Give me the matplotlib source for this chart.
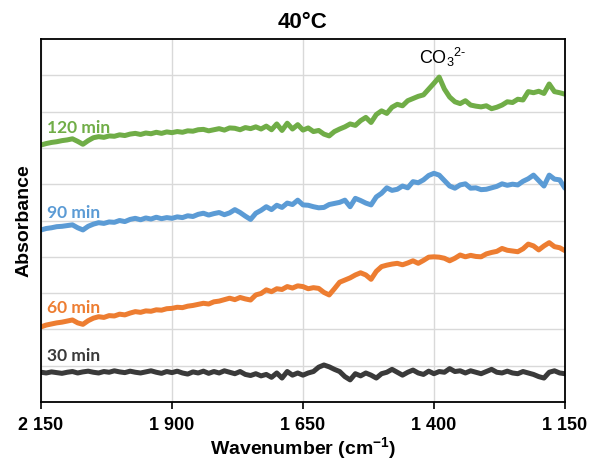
import numpy as np
import matplotlib
matplotlib.use("Agg")
import matplotlib.pyplot as plt
from matplotlib.ticker import FuncFormatter

# wavenumber grid, every 10 cm-1 from 2150 down to 1150
wavenumber = np.arange(2150, 1149, -10)

abs_30 = [0.82, 0.80, 0.83, 0.81, 0.79, 0.82, 0.84, 0.80, 0.83, 0.85,
          0.82, 0.80, 0.84, 0.82, 0.86, 0.83, 0.81, 0.85, 0.82, 0.80,
          0.83, 0.86, 0.82, 0.79, 0.84, 0.81, 0.85, 0.80, 0.77, 0.83,
          0.80, 0.85, 0.79, 0.84, 0.80, 0.86, 0.82, 0.78, 0.84, 0.76,
          0.73, 0.78, 0.72, 0.76, 0.68, 0.80, 0.66, 0.84, 0.74, 0.80,
          0.74, 0.80, 0.84, 0.96, 1.02, 0.97, 0.90, 0.84, 0.70, 0.61,
          0.78, 0.72, 0.80, 0.74, 0.66, 0.78, 0.82, 0.90, 0.82, 0.74,
          0.82, 0.88, 0.80, 0.76, 0.85, 0.78, 0.84, 0.82, 0.92, 0.84,
          0.86, 0.80, 0.86, 0.82, 0.78, 0.84, 0.90, 0.82, 0.80, 0.85,
          0.80, 0.78, 0.84, 0.80, 0.76, 0.70, 0.66, 0.82, 0.86, 0.80,
          0.78]

abs_60 = [2.07, 2.12, 2.15, 2.18, 2.20, 2.23, 2.26, 2.18, 2.14, 2.24,
          2.31, 2.35, 2.33, 2.38, 2.37, 2.42, 2.40, 2.45, 2.49, 2.47,
          2.51, 2.50, 2.54, 2.53, 2.57, 2.58, 2.61, 2.60, 2.64, 2.66,
          2.69, 2.72, 2.70, 2.76, 2.78, 2.82, 2.86, 2.82, 2.88, 2.84,
          2.81, 2.95, 2.99, 3.09, 3.04, 3.12, 3.10, 3.18, 3.14, 3.20,
          3.18, 3.12, 3.15, 3.13, 3.02, 2.95, 3.12, 3.30, 3.36, 3.42,
          3.50, 3.56, 3.50, 3.38, 3.60, 3.73, 3.77, 3.80, 3.82, 3.78,
          3.83, 3.89, 3.82, 3.90, 3.99, 4.00, 3.99, 3.96, 3.89, 3.96,
          4.05, 4.00, 4.04, 4.01, 4.00, 4.08, 4.12, 4.15, 4.23, 4.18,
          4.16, 4.14, 4.22, 4.35, 4.30, 4.19, 4.30, 4.39, 4.28, 4.25,
          4.17]

abs_90 = [4.74, 4.78, 4.80, 4.83, 4.84, 4.86, 4.88, 4.80, 4.74, 4.84,
          4.90, 4.94, 4.92, 4.96, 4.95, 5.00, 4.97, 5.03, 5.06, 5.02,
          5.07, 5.04, 5.09, 5.05, 5.08, 5.06, 5.10, 5.08, 5.13, 5.11,
          5.17, 5.20, 5.15, 5.19, 5.22, 5.16, 5.21, 5.30, 5.22, 5.12,
          5.03, 5.20, 5.28, 5.38, 5.30, 5.42, 5.36, 5.48, 5.44, 5.56,
          5.43, 5.42, 5.38, 5.35, 5.36, 5.44, 5.47, 5.50, 5.56, 5.38,
          5.61, 5.55, 5.48, 5.43, 5.65, 5.75, 5.90, 5.83, 5.86, 5.95,
          5.90, 6.07, 6.04, 6.12, 6.24, 6.30, 6.25, 6.10, 5.95, 5.89,
          5.98, 6.01, 5.89, 5.90, 5.85, 5.86, 5.90, 5.94, 6.01, 5.97,
          6.00, 5.98, 6.08, 6.15, 6.25, 6.10, 5.95, 6.25, 6.14, 6.12,
          5.89]

abs_120 = [7.08, 7.12, 7.15, 7.17, 7.20, 7.22, 7.25, 7.18, 7.10, 7.20,
           7.28, 7.31, 7.29, 7.33, 7.32, 7.36, 7.34, 7.38, 7.40, 7.37,
           7.41, 7.39, 7.43, 7.40, 7.44, 7.42, 7.45, 7.43, 7.47, 7.46,
           7.50, 7.51, 7.47, 7.50, 7.53, 7.49, 7.55, 7.54, 7.50, 7.56,
           7.53, 7.58, 7.52, 7.60, 7.50, 7.66, 7.48, 7.68, 7.52, 7.64,
           7.49, 7.55, 7.45, 7.48, 7.38, 7.33, 7.45, 7.52, 7.58, 7.66,
           7.62, 7.75, 7.84, 7.70, 7.92, 8.02, 7.95, 8.12, 8.20, 8.16,
           8.30, 8.36, 8.42, 8.46, 8.62, 8.78, 8.95, 8.62, 8.40, 8.27,
           8.22, 8.30, 8.18, 8.15, 8.13, 8.16, 8.08, 8.12, 8.18, 8.27,
           8.25, 8.34, 8.32, 8.55, 8.52, 8.56, 8.50, 8.76, 8.55, 8.52,
           8.48]

series = [
    (abs_30, "30 min", "#3a3a3a", 1.27),
    (abs_60, "60 min", "#ED7D31", 2.59),
    (abs_90, "90 min", "#5B9BD5", 5.21),
    (abs_120, "120 min", "#70AD47", 7.55),
]

fig = plt.figure(figsize=(5.9, 4.63), dpi=100)
ax = fig.add_axes([0.0695, 0.1317, 0.888, 0.7841])

for vals, label, color, ylab in series:
    ax.plot(wavenumber, vals, color=color, lw=3.6, solid_capstyle="round",
            solid_joinstyle="round")
    ax.text(2139, ylab, label, color=color, fontsize=12.5, fontweight="bold",
            family="Lato", va="center", ha="left")

# CO3 2- label (hyphen, not minus)
ax.text(1383, 9.48, "CO$_\\mathregular{3}$$^\\mathregular{2\u2010}$", fontsize=13,
        family="Liberation Sans", ha="center", va="center")

ax.set_xlim(2150, 1150)
ax.set_ylim(0, 10)
ax.set_xticks([2150, 1900, 1650, 1400, 1150])
ax.xaxis.set_major_formatter(FuncFormatter(lambda v, p: f"{int(v):,}".replace(",", " ")))
ax.set_yticks(np.arange(1, 10))
ax.tick_params(axis="y", left=False, labelleft=False)
ax.tick_params(axis="x", direction="out", length=5, width=1.2, pad=6)
for lab in ax.get_xticklabels():
    lab.set_fontsize(13)
    lab.set_fontweight("bold")
    lab.set_family("Liberation Sans")

ax.grid(True, color="#d9d9d9", lw=1)
ax.set_axisbelow(True)
for s in ax.spines.values():
    s.set_color("black")
    s.set_linewidth(1.3)

ax.set_title("40°C", fontsize=16, fontweight="bold", family="Liberation Sans", pad=8)
ax.set_xlabel("Wavenumber (cm$^\\mathregular{-1}$)", fontsize=14, fontweight="bold",
              family="Liberation Sans", labelpad=1)
ax.set_ylabel("Absorbance", fontsize=14, fontweight="bold", family="Liberation Sans",
              labelpad=6)

fig.savefig("out.png", dpi=100)
